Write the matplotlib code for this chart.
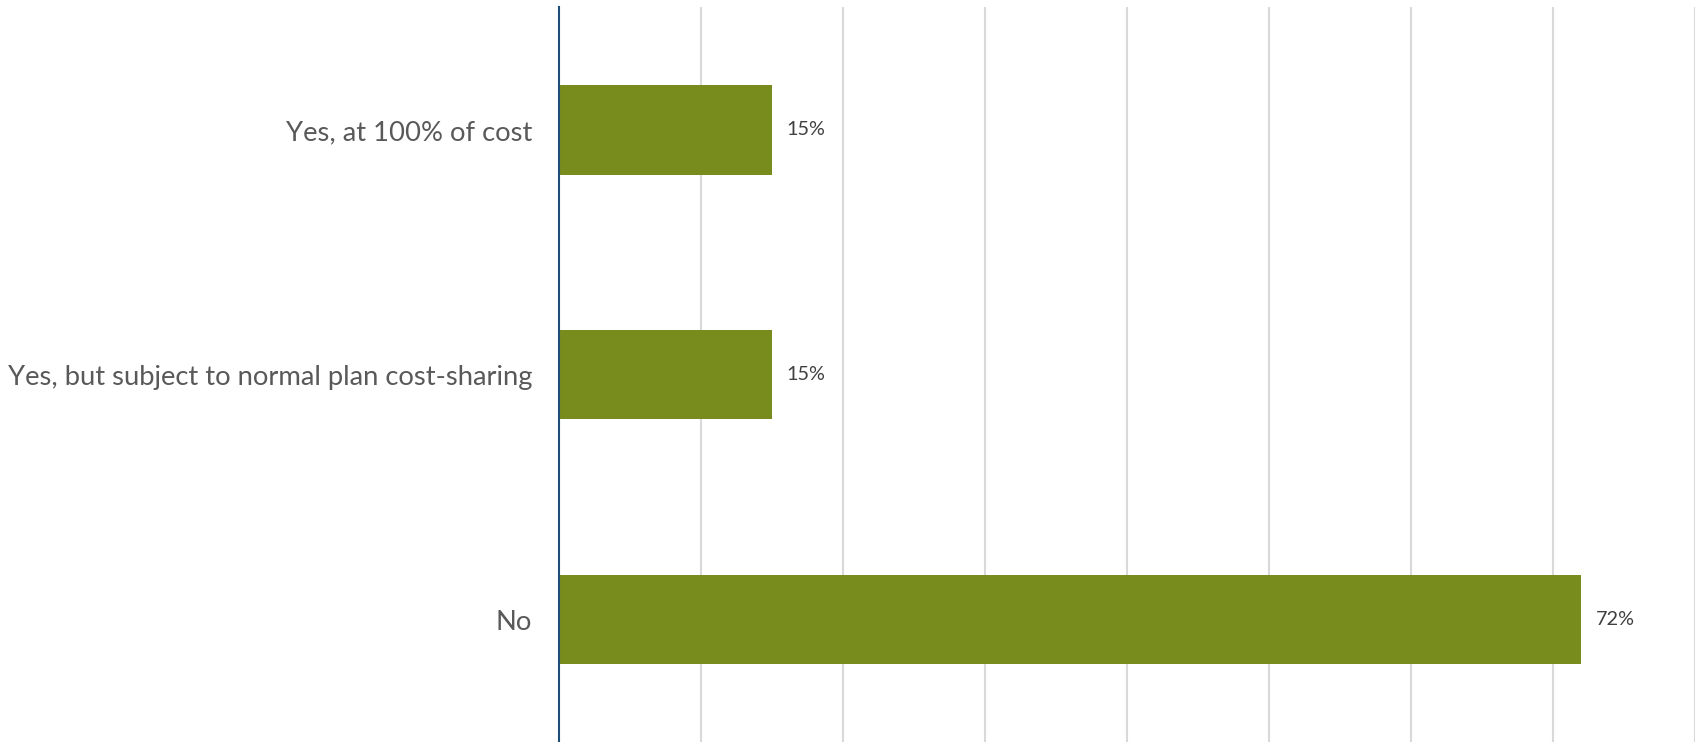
import matplotlib
matplotlib.use("Agg")
from matplotlib import pyplot as plt
from matplotlib.ticker import MultipleLocator

plt.rcParams["font.family"] = ["Lato", "DejaVu Sans"]

# survey answers, top to bottom
categories = ["Yes, at 100% of cost",
              "Yes, but subject to normal plan cost-sharing",
              "No"]
shares = [15, 15, 72]
value_labels = ["15%", "15%", "72%"]

bar_color = "#788C1E"
axis_color = "#1F4E79"
grid_color = "#D9D9D9"

fig = plt.figure(figsize=(16.98, 7.42), dpi=100)
ax = fig.add_axes([0.329, 0.0, 0.669, 0.990])

ypos = list(range(len(categories)))
ax.barh(ypos, shares, height=0.365, color=bar_color, zorder=3)

for y, v, lab in zip(ypos, shares, value_labels):
    ax.text(v + 1.05, y, lab, va="center", ha="left",
            fontsize=14.3, color="#404040")

ax.set_xlim(0, 80)
ax.set_ylim(len(categories) - 0.5, -0.5)
ax.set_yticks(ypos)
ax.set_yticklabels(categories, fontsize=19.7, color="#595959")
ax.tick_params(axis="y", length=0, pad=19)
ax.tick_params(axis="x", length=0, labelbottom=False)

ax.xaxis.set_major_locator(MultipleLocator(10))
ax.grid(axis="x", color=grid_color, linewidth=1.5, zorder=0)

for side in ("top", "right", "bottom"):
    ax.spines[side].set_visible(False)
ax.spines["left"].set_color(axis_color)
ax.spines["left"].set_linewidth(1.5)
ax.spines["left"].set_zorder(4)

fig.savefig("out.png", dpi=100)
